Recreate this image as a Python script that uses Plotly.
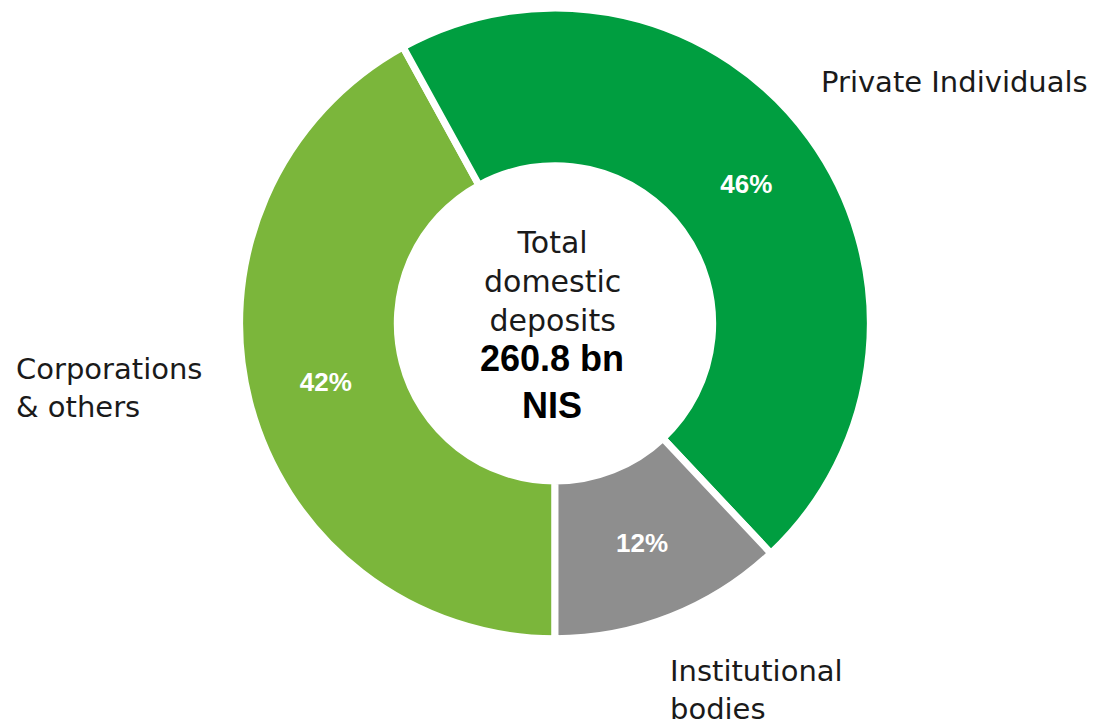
import plotly.graph_objects as go

# Domestic deposits by depositor type
labels = ['Corporations & others', 'Private Individuals', 'Institutional bodies']
shares = [42, 46, 12]
colors = ['#7BB63B', '#009E40', '#8E8E8E']
total_text = '260.8 bn<br>NIS'

fig = go.Figure(go.Pie(
    labels=labels,
    values=shares,
    hole=0.5,
    sort=False,
    direction='clockwise',
    rotation=180,
    marker=dict(colors=colors, line=dict(color='white', width=7)),
    texttemplate='%{value}%',
    textposition='inside',
    insidetextorientation='horizontal',
    textfont=dict(family='Liberation Sans, Arial', size=26, color='white', weight='bold'),
    domain=dict(x=[0.2087, 0.7840], y=[0.13, 1.0]),
    showlegend=False,
    hoverinfo='label+percent',
))

label_font = dict(family='DejaVu Sans, sans-serif', size=29, color='#1a1a1a')

fig.update_layout(
    width=1102, height=725,
    margin=dict(l=0, r=0, t=0, b=0),
    paper_bgcolor='white',
    plot_bgcolor='white',
    annotations=[
        dict(text='Total<br>domestic<br>deposits', x=0.494, y=0.623, xref='paper', yref='paper',
             showarrow=False, font=dict(family='DejaVu Sans, sans-serif', size=30, color='#1a1a1a'),
             align='center', yanchor='middle'),
        dict(text='<b>' + total_text + '</b>', x=0.494, y=0.484, xref='paper', yref='paper',
             showarrow=False, font=dict(family='Liberation Sans, Arial', size=36, color='black'),
             align='center', yanchor='middle'),
        dict(text='Private Individuals', x=0.736, y=0.898, xref='paper', yref='paper',
             showarrow=False, font=label_font, xanchor='left', yanchor='middle', align='left'),
        dict(text='Corporations<br>& others', x=0.005, y=0.476, xref='paper', yref='paper',
             showarrow=False, font=label_font, xanchor='left', yanchor='middle', align='left'),
        dict(text='Institutional<br>bodies', x=0.599, y=0.06, xref='paper', yref='paper',
             showarrow=False, font=label_font, xanchor='left', yanchor='middle', align='left'),
    ],
)

fig.write_html('out.html')
